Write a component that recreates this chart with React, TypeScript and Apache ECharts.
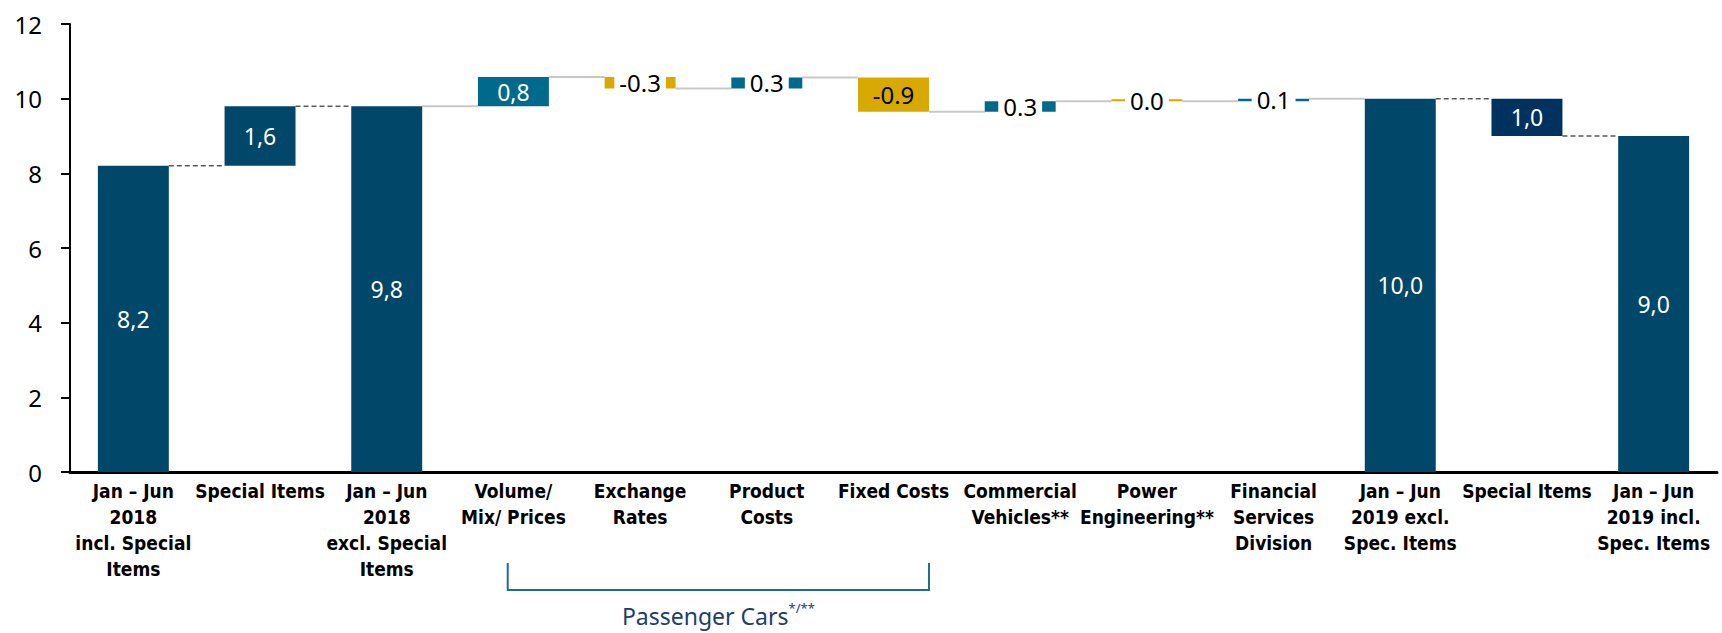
import React, { useEffect, useRef } from "react";
import * as echarts from "echarts";

const categories = [
  "Jan – Jun\n2018\nincl. Special\nItems",
  "Special Items",
  "Jan – Jun\n2018\nexcl. Special\nItems",
  "Volume/\nMix/ Prices",
  "Exchange\nRates",
  "Product\nCosts",
  "Fixed Costs",
  "Commercial\nVehicles**",
  "Power\nEngineering**",
  "Financial\nServices\nDivision",
  "Jan – Jun\n2019 excl.\nSpec. Items",
  "Special Items",
  "Jan – Jun\n2019 incl.\nSpec. Items",
];
const stepValues = [8.2, 1.6, 9.8, 0.78, -0.31, 0.3, -0.92, 0.28, 0.0, 0.07, 10.0, -1.0, 9.0];
const stepKinds = ["total", "special", "total", "pos", "neg", "pos", "neg", "pos", "neg", "pos", "total", "specialNeg", "total"];
const valueLabels = ["8,2", "1,6", "9,8", "0,8", "-0.3", "0.3", "-0.9", "0.3", "0.0", "0.1", "10,0", "1,0", "9,0"];
const yMin = 0;
const yMax = 12;
const yInterval = 2;
const groupLabel = "Passenger Cars";
const groupMark = "*/**";
const groupFrom = 3;
const groupTo = 6;

const FONT = "'Noto Sans', 'Open Sans', sans-serif";
const AXIS_FONT = "'Liberation Sans Narrow', 'DejaVu Sans Condensed', 'Noto Sans', sans-serif";
const kindColor: Record<string, string> = {
  total: "#00476A",
  special: "#00476A",
  specialNeg: "#00325F",
  pos: "#006A8D",
  neg: "#D8A900",
};
const BAR_RATIO = 0.56;

export default function App() {
  const ref = useRef<HTMLDivElement>(null);
  useEffect(() => {
    document.body.style.margin = "0";
    if (!ref.current) return;
    const chart = echarts.init(ref.current, undefined, { renderer: "svg" });

    let level = 0;
    const base: number[] = [];
    const height: number[] = [];
    const after: number[] = [];
    stepValues.forEach((v, i) => {
      if (stepKinds[i] === "total") {
        base.push(0);
        height.push(v);
        level = v;
      } else {
        if (v >= 0) {
          base.push(level);
          height.push(v);
        } else {
          base.push(level + v);
          height.push(-v);
        }
        level += v;
      }
      after.push(level);
    });

    const barData = height.map((h, i) => {
      const kind = stepKinds[i];
      let label: any;
      if (h < 0.5) {
        label = {
          show: true,
          position: "inside",
          formatter: valueLabels[i],
          color: "#000",
          fontSize: 24,
          fontFamily: FONT,
          backgroundColor: "#fff",
          padding: [2, 5, 0, 5],
        };
      } else if (kind === "neg") {
        label = { show: true, position: "inside", formatter: valueLabels[i], color: "#000", fontSize: 24, fontFamily: FONT };
      } else {
        label = { show: true, position: "inside", formatter: valueLabels[i], color: "#fff", fontSize: 23, fontFamily: FONT };
      }
      return { value: h, itemStyle: { color: kindColor[kind] }, label };
    });

    const connectors = after.slice(0, -1).map((lv, i) => {
      const isSpecial = (k: string) => k === "special" || k === "specialNeg";
      const dashed = isSpecial(stepKinds[i]) || isSpecial(stepKinds[i + 1]) ? 1 : 0;
      return [i, lv, dashed];
    });

    chart.setOption({
      animation: false,
      grid: { left: 70, right: 5, top: 24, bottom: 161, containLabel: false },
      xAxis: {
        type: "category",
        data: categories,
        axisLine: { show: true, lineStyle: { color: "#000", width: 3 } },
        axisTick: { show: false },
        axisLabel: {
          interval: 0,
          margin: 6,
          color: "#000",
          fontWeight: "bold",
          fontSize: 19,
          lineHeight: 26,
          fontFamily: AXIS_FONT,
        },
      },
      yAxis: {
        type: "value",
        min: yMin,
        max: yMax,
        interval: yInterval,
        axisLine: { show: true, lineStyle: { color: "#000", width: 2 } },
        axisTick: { show: true, length: 9, lineStyle: { color: "#000", width: 2 } },
        axisLabel: { color: "#000", fontSize: 24, fontFamily: FONT, margin: 28 },
        splitLine: { show: false },
      },
      series: [
        {
          type: "custom",
          z: 1,
          renderItem: (params: any, api: any) => {
            const i = api.value(0);
            const lv = api.value(1);
            const dashed = api.value(2);
            const band = api.size([1, 0])[0];
            const half = (band * BAR_RATIO) / 2;
            const p1 = api.coord([i, lv]);
            const p2 = api.coord([i + 1, lv]);
            return {
              type: "line",
              shape: { x1: p1[0] + half, y1: p1[1], x2: p2[0] - half, y2: p1[1] },
              style: dashed
                ? { stroke: "#5a5a5a", lineWidth: 1.5, lineDash: [5, 3] }
                : { stroke: "#c8c8c8", lineWidth: 2 },
            };
          },
          data: connectors,
          silent: true,
        },
        {
          type: "bar",
          stack: "w",
          barWidth: BAR_RATIO * 100 + "%",
          itemStyle: { color: "transparent" },
          data: base,
          silent: true,
          z: 2,
        },
        {
          type: "bar",
          stack: "w",
          barWidth: BAR_RATIO * 100 + "%",
          barMinHeight: 2,
          data: barData,
          z: 3,
        },
      ],
    });

    const xFrom = chart.convertToPixel({ xAxisIndex: 0 }, groupFrom) as number;
    const xTo = chart.convertToPixel({ xAxisIndex: 0 }, groupTo) as number;
    const x0 = chart.convertToPixel({ xAxisIndex: 0 }, 0) as number;
    const x1 = chart.convertToPixel({ xAxisIndex: 0 }, 1) as number;
    const band = x1 - x0;
    const left = xFrom - band * 0.045;
    const right = xTo + (band * BAR_RATIO) / 2;
    const top = 563;
    const bottom = 590;

    chart.setOption({
      graphic: [
        {
          type: "polyline",
          shape: { points: [[left, top], [left, bottom], [right, bottom], [right, top]] },
          style: { stroke: "#1F6E8C", lineWidth: 2, fill: null },
        },
        {
          type: "text",
          x: (left + right) / 2,
          y: 616,
          style: {
            text: `{a|${groupLabel}}{s|${groupMark}}`,
            align: "center",
            verticalAlign: "middle",
            rich: {
              a: { fontSize: 23, fontFamily: FONT, fill: "#1B3F6B", lineHeight: 30 },
              s: { fontSize: 13, fontFamily: FONT, fill: "#1B3F6B", verticalAlign: "top", lineHeight: 30, padding: [0, 0, 12, 0] },
            },
          },
        },
      ],
    });

    return () => chart.dispose();
  }, []);
  return <div ref={ref} style={{ width: 1722, height: 633 }} />;
}
